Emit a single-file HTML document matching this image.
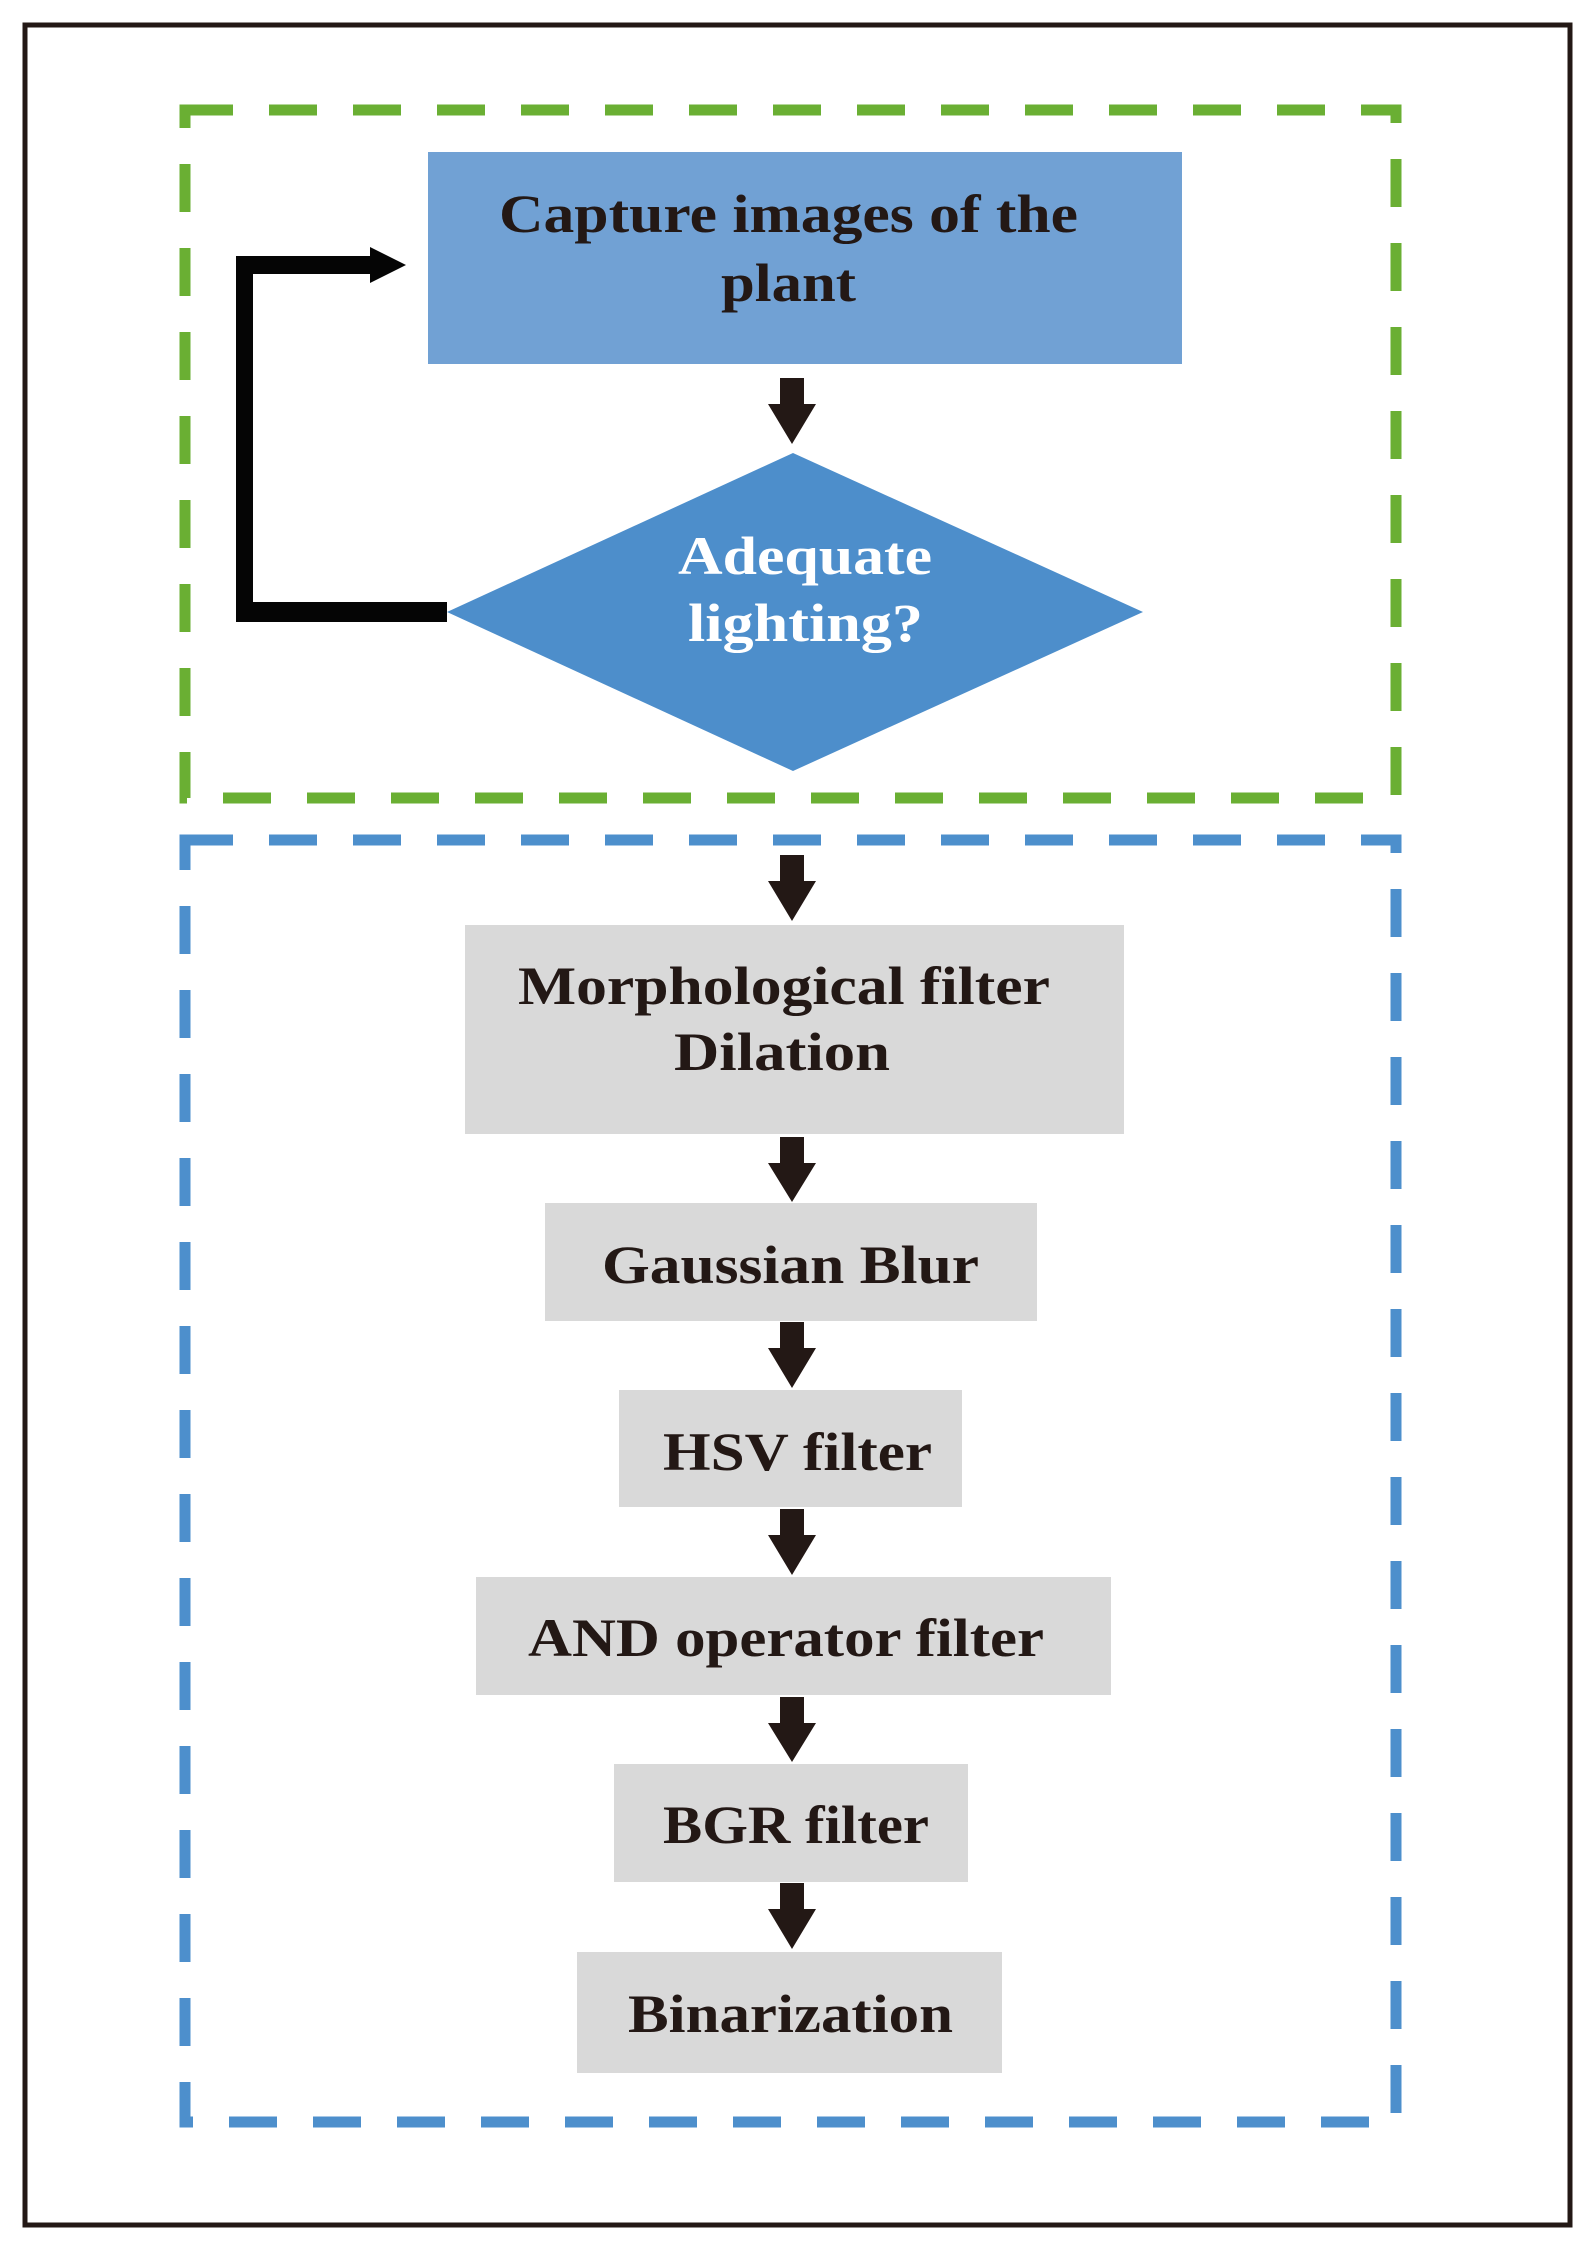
<!DOCTYPE html>
<html><head><meta charset="utf-8"><style>html,body{margin:0;padding:0;background:#fff}svg{display:block}</style></head>
<body>
<svg width="1593" height="2250" viewBox="0 0 1593 2250" xmlns="http://www.w3.org/2000/svg">
<rect x="0" y="0" width="1593" height="2250" fill="#fff"/>
<rect x="25" y="25" width="1545" height="2200" fill="none" stroke="#231815" stroke-width="5"/>
<rect x="185" y="110" width="1211" height="688" fill="none" stroke="#6aaf33" stroke-width="11" stroke-dasharray="48 36"/>
<rect x="185" y="840" width="1211" height="1282" fill="none" stroke="#4d8fcc" stroke-width="11" stroke-dasharray="48 36"/>
<rect x="428" y="152" width="754" height="212" fill="#71a1d4"/>
<polygon points="793,453 1143,612 793,771 447,612" fill="#4d8ecb"/>
<g fill="#050505">
<rect x="236" y="256" width="17" height="366"/>
<rect x="236" y="602" width="211" height="20"/>
<rect x="236" y="256" width="136" height="18"/>
<polygon points="370,247 406,265 370,283"/>
</g>
<g fill="#231815">
<polygon points="780,378 804,378 804,404 816,404 792,444 768,404 780,404"/>
<polygon points="780,855 804,855 804,881 816,881 792,921 768,881 780,881"/>
<polygon points="780,1137 804,1137 804,1163 816,1163 792,1202 768,1163 780,1163"/>
<polygon points="780,1322 804,1322 804,1348 816,1348 792,1388 768,1348 780,1348"/>
<polygon points="780,1509 804,1509 804,1535 816,1535 792,1575 768,1535 780,1535"/>
<polygon points="780,1697 804,1697 804,1723 816,1723 792,1762 768,1723 780,1723"/>
<polygon points="780,1883 804,1883 804,1909 816,1909 792,1949 768,1909 780,1909"/>
</g>
<g fill="#d9d9d9">
<rect x="465" y="925" width="659" height="209"/>
<rect x="545" y="1203" width="492" height="118"/>
<rect x="619" y="1390" width="343" height="117"/>
<rect x="476" y="1577" width="635" height="118"/>
<rect x="614" y="1764" width="354" height="118"/>
<rect x="577" y="1952" width="425" height="121"/>
</g>
<g font-family="'Liberation Serif', serif" font-weight="bold" font-size="54" fill="#231815">
<text x="499" y="232" textLength="579" lengthAdjust="spacingAndGlyphs">Capture images of the</text>
<text x="721" y="301" textLength="135" lengthAdjust="spacingAndGlyphs">plant</text>
<text x="678" y="574" fill="#fff" textLength="254" lengthAdjust="spacingAndGlyphs">Adequate</text>
<text x="688" y="641" fill="#fff" textLength="235" lengthAdjust="spacingAndGlyphs">lighting?</text>
<text x="518" y="1004" textLength="532" lengthAdjust="spacingAndGlyphs">Morphological filter</text>
<text x="674" y="1070" textLength="216" lengthAdjust="spacingAndGlyphs">Dilation</text>
<text x="602" y="1283" textLength="377" lengthAdjust="spacingAndGlyphs">Gaussian Blur</text>
<text x="663" y="1470" textLength="269" lengthAdjust="spacingAndGlyphs">HSV filter</text>
<text x="528" y="1656" textLength="516" lengthAdjust="spacingAndGlyphs">AND operator filter</text>
<text x="663" y="1843" textLength="266" lengthAdjust="spacingAndGlyphs">BGR filter</text>
<text x="628" y="2032" textLength="325" lengthAdjust="spacingAndGlyphs">Binarization</text>
</g>
</svg>
</body></html>
